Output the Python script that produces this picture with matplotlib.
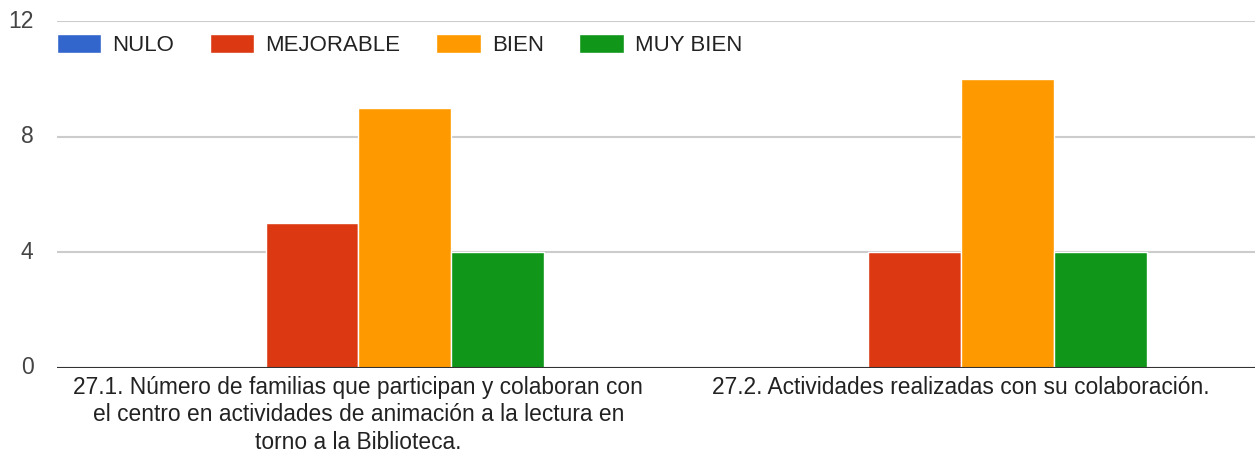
import matplotlib.pyplot as plt
import numpy as np

plt.rcParams['font.family'] = ['Liberation Sans', 'DejaVu Sans']

categories = ['27.1. Número de familias que participan y colaboran con\nel centro en actividades de animación a la lectura en\ntorno a la Biblioteca.',
              '27.2. Actividades realizadas con su colaboración.']
series = ['NULO', 'MEJORABLE', 'BIEN', 'MUY BIEN']
nulo = [0, 0]
mejorable = [5, 4]
bien = [9, 10]
muy_bien = [4, 4]
colors = ['#3366cc', '#dc3912', '#ff9900', '#109618']

fig = plt.figure(figsize=(12.55, 4.55), dpi=100)
ax = fig.add_axes([57 / 1255, 87 / 455, 1198 / 1255, 347 / 455])

x = np.arange(len(categories))
w = 0.154
for i, (name, vals) in enumerate(zip(series, [nulo, mejorable, bien, muy_bien])):
    ax.bar(x + (i - 1.5) * w, vals, w, color=colors[i], edgecolor='white',
           linewidth=1, label=name, zorder=3)

ax.set_xlim(-0.5, 1.488)
ax.set_ylim(0, 12)
ax.set_yticks([0, 4, 8, 12])
ax.grid(axis='y', color='#cccccc', linewidth=1.5, zorder=0)
ax.axhline(0, color='#333333', linewidth=1.5, zorder=4)
for s in ax.spines.values():
    s.set_visible(False)
ax.tick_params(axis='y', length=0, pad=17, labelsize=16.5, labelcolor='#444444')
ax.tick_params(axis='x', length=0, pad=6, labelsize=16.4, labelcolor='#222222')
ax.set_xticks(x)
ax.set_xticklabels(categories, linespacing=1.23)
for t in ax.get_yticklabels():
    t.set_verticalalignment('center')

ax.legend(loc='upper left', bbox_to_anchor=(0.0, 0.962), ncol=4, frameon=False,
          fontsize=16, handlelength=2.0, handleheight=0.9, handletextpad=0.5,
          columnspacing=1.6, borderaxespad=0, borderpad=0, labelcolor='#222222')

fig.savefig('out.png', dpi=100)
